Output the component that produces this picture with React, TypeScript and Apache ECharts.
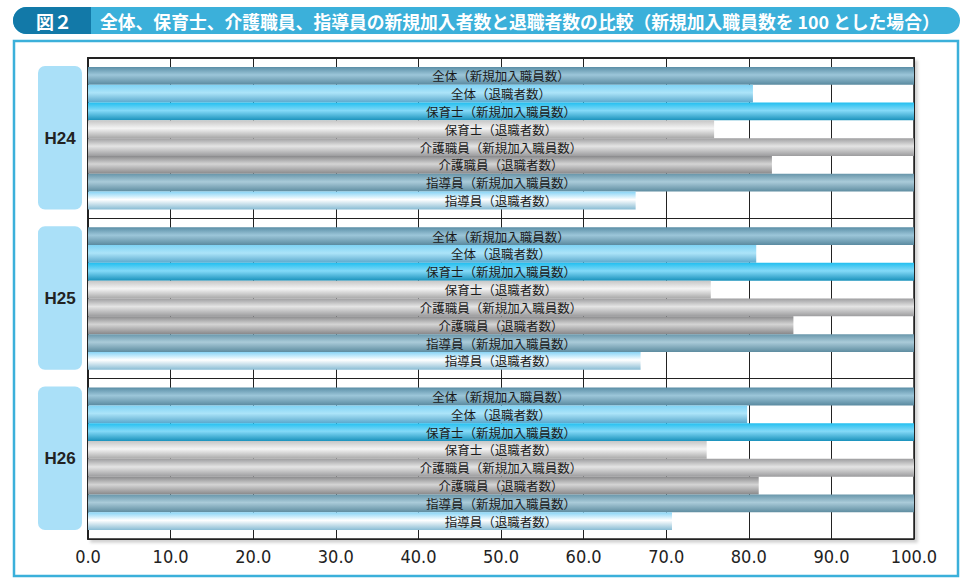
import * as echarts from 'echarts';
import { useEffect, useRef } from 'react';

// 年度
const groups = ['H24', 'H25', 'H26'];

// 各バーの名前（上から順）
const barNames = [
  '全体（新規加入職員数）',
  '全体（退職者数）',
  '保育士（新規加入職員数）',
  '保育士（退職者数）',
  '介護職員（新規加入職員数）',
  '介護職員（退職者数）',
  '指導員（新規加入職員数）',
  '指導員（退職者数）',
];

// 新規加入職員数を100とした値
const h24 = [100, 80.5, 100, 75.8, 100, 82.8, 100, 66.3];
const h25 = [100, 80.9, 100, 75.4, 100, 85.4, 100, 66.9];
const h26 = [100, 79.8, 100, 74.9, 100, 81.2, 100, 70.7];

const xTicks = [0, 10, 20, 30, 40, 50, 60, 70, 80, 90, 100];

const titleText =
  '全体、保育士、介護職員、指導員の新規加入者数と退職者数の比較（新規加入職員数を 100 とした場合）';

// バーごとのグラデーション [上, 中, 下]
const barColors = [
  ['#5a8ea6', '#9cc6d9', '#5a8aa0'],
  ['#7ed2f4', '#ace4f9', '#5aa8cc'],
  ['#22bff0', '#84daf8', '#1a92bc'],
  ['#c6c6c6', '#f4f4f4', '#a8a8a8'],
  ['#9e9ea0', '#e4e4e4', '#9c9c9e'],
  ['#8a8a8c', '#d4d4d4', '#88888a'],
  ['#6896aa', '#aacbd9', '#5e8ca0'],
  ['#88d4f6', '#ffffff', '#88bcd4'],
];

const SLOTS_PER_GROUP = 9;

export default function App() {
  const chartRef = useRef<HTMLDivElement>(null);

  useEffect(() => {
    if (!chartRef.current) return;
    const chart = echarts.init(chartRef.current, undefined, { renderer: 'svg' });

    const groupValues = [h24, h25, h26];
    // [値, 開始スロット, バー番号]
    const barData: number[][] = [];
    groupValues.forEach((vals, g) => {
      vals.forEach((v, i) => {
        barData.push([v, g * SLOTS_PER_GROUP + 0.5 + i, i]);
      });
    });
    const groupData = groups.map((_, g) => [
      0,
      g * SLOTS_PER_GROUP + 0.5,
      g * SLOTS_PER_GROUP + SLOTS_PER_GROUP - 0.5,
      g,
    ]);

    const option = {
      animation: false,
      grid: {
        left: 88,
        right: 57,
        top: 58,
        bottom: 49,
        show: true,
        backgroundColor: '#fff',
        borderColor: '#222',
        borderWidth: 1.5,
        shadowColor: 'rgba(0,0,0,0.18)',
        shadowBlur: 3,
        shadowOffsetX: 3,
        shadowOffsetY: 3,
      },
      xAxis: {
        type: 'value',
        min: xTicks[0],
        max: xTicks[xTicks.length - 1],
        interval: 10,
        axisLine: { show: true, lineStyle: { color: '#222', width: 2 } },
        axisTick: { show: false },
        splitLine: { show: true, lineStyle: { color: '#222', width: 1 } },
        axisLabel: {
          color: '#222',
          fontSize: 18,
          fontFamily: '"Liberation Sans Narrow", "DejaVu Sans Condensed", sans-serif',
          margin: 8,
          formatter: (v: number) => v.toFixed(1),
        },
      },
      yAxis: {
        type: 'value',
        min: 0,
        max: groups.length * SLOTS_PER_GROUP,
        interval: SLOTS_PER_GROUP,
        inverse: true,
        axisLine: { show: true, lineStyle: { color: '#222', width: 2 } },
        axisTick: { show: false },
        axisLabel: { show: false },
        splitLine: { show: true, lineStyle: { color: '#222', width: 1 } },
      },
      graphic: [
        {
          type: 'rect',
          shape: { x: 13, y: 7, width: 947, height: 27, r: 13.5 },
          style: { fill: '#3bb0da' },
        },
        {
          type: 'rect',
          shape: { x: 13, y: 7, width: 78, height: 27, r: [13.5, 0, 0, 13.5] },
          style: { fill: '#1279a8' },
        },
        {
          type: 'text',
          x: 54,
          y: 21,
          style: {
            text: '図２',
            fill: '#fff',
            font: 'bold 18px "Noto Sans CJK JP"',
            align: 'center',
            verticalAlign: 'middle',
          },
        },
        {
          type: 'text',
          x: 100,
          y: 21,
          style: {
            text: titleText,
            fill: '#fff',
            font: 'bold 17.8px "Noto Sans CJK JP"',
            align: 'left',
            verticalAlign: 'middle',
          },
        },
        {
          type: 'rect',
          shape: { x: 14, y: 41, width: 944, height: 535 },
          style: { fill: 'none', stroke: '#3bb0da', lineWidth: 2.5 },
        },
      ],
      series: [
        {
          type: 'custom',
          encode: { x: 0, y: 1 },
          data: barData,
          renderItem: (params: any, api: any) => {
            const v = api.value(0);
            const s = api.value(1);
            const idx = api.value(2);
            const p0 = api.coord([0, s]);
            const p1 = api.coord([v, s + 1]);
            const mid = api.coord([50, s + 0.5]);
            const c = barColors[idx];
            return {
              type: 'group',
              children: [
                {
                  type: 'rect',
                  shape: {
                    x: p0[0],
                    y: p0[1],
                    width: p1[0] - p0[0],
                    height: p1[1] - p0[1],
                  },
                  style: {
                    fill: new echarts.graphic.LinearGradient(0, 0, 0, 1, [
                      { offset: 0, color: c[0] },
                      { offset: 0.45, color: c[1] },
                      { offset: 1, color: c[2] },
                    ]),
                  },
                },
                {
                  type: 'text',
                  x: mid[0],
                  y: mid[1],
                  style: {
                    text: barNames[idx],
                    fill: '#1a1a1a',
                    font: '12.5px "Noto Sans CJK JP"',
                    align: 'center',
                    verticalAlign: 'middle',
                  },
                },
              ],
            };
          },
        },
        {
          type: 'custom',
          encode: { x: 0, y: [1, 2] },
          data: groupData,
          clip: false,
          renderItem: (params: any, api: any) => {
            const top = api.coord([0, api.value(1)]);
            const bottom = api.coord([0, api.value(2)]);
            const g = api.value(3);
            const x = top[0] - 50;
            return {
              type: 'group',
              children: [
                {
                  type: 'rect',
                  shape: { x, y: top[1] - 1, width: 44, height: bottom[1] - top[1] + 1, r: 7 },
                  style: { fill: '#aae0f8' },
                },
                {
                  type: 'text',
                  x: x + 22,
                  y: (top[1] + bottom[1]) / 2,
                  style: {
                    text: groups[g],
                    fill: '#222',
                    font: 'bold 17px "Liberation Sans", Arial, sans-serif',
                    align: 'center',
                    verticalAlign: 'middle',
                  },
                },
              ],
            };
          },
        },
      ],
    };

    chart.setOption(option);

    return () => {
      chart.dispose();
    };
  }, []);

  return (
    <div
      ref={chartRef}
      style={{ position: 'absolute', left: 0, top: 0, width: '971px', height: '588px', background: '#fff' }}
    />
  );
}
